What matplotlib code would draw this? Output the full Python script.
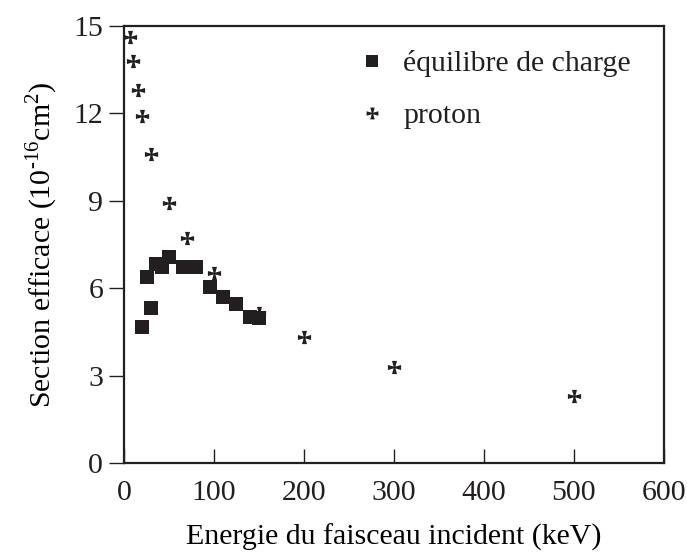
import matplotlib
matplotlib.use('Agg')
from matplotlib import pyplot as plt
from matplotlib.path import Path
from matplotlib.lines import Line2D

# data
proton_e = [7, 10, 15, 20, 30, 50, 70, 100, 150, 200, 300, 500]
proton_s = [14.6, 13.8, 12.8, 11.9, 10.6, 8.9, 7.7, 6.5, 5.15, 4.33, 3.3, 2.3]

charge_e = [20, 25, 30, 35, 42.5, 50, 65, 80, 95, 110, 125, 140, 150]
charge_s = [4.67, 6.38, 5.30, 6.82, 6.73, 7.05, 6.73, 6.71, 6.03, 5.70, 5.45, 5.02, 4.96]

xticks = [0, 100, 200, 300, 400, 500, 600]
yticks = [0, 3, 6, 9, 12, 15]

ink = '#231f20'
fs = 21.5
plt.rcParams['font.family'] = ['Liberation Serif', 'DejaVu Serif']
plt.rcParams['mathtext.fontset'] = 'custom'
plt.rcParams['mathtext.rm'] = 'Liberation Serif'
plt.rcParams['text.color'] = ink

# cross pattee marker
a, b = 0.14, 0.38
verts = [(a, a), (b, 1), (-b, 1), (-a, a), (-1, b), (-1, -b), (-a, -a),
         (-b, -1), (b, -1), (a, -a), (1, -b), (1, b), (a, a)]
codes = [Path.MOVETO] + [Path.LINETO] * 11 + [Path.CLOSEPOLY]
cross = Path(verts, codes)

fig = plt.figure(figsize=(6.87, 5.53), dpi=100)
ax = fig.add_axes([0.1805, 0.1627, 0.786, 0.791])

ax.plot(charge_e, charge_s, linestyle='none', marker='s', markersize=9.5,
        color=ink, markeredgewidth=0)
ax.plot(proton_e, proton_s, linestyle='none', marker=cross, markersize=9.5,
        color=ink, markeredgewidth=0)

ax.set_xlim(0, 600)
ax.set_ylim(0, 15)
ax.set_xticks(xticks)
ax.set_yticks(yticks)
ax.tick_params(axis='x', direction='in', length=10, width=1, colors=ink,
               labelsize=fs, pad=12)
ax.tick_params(axis='y', direction='out', length=11, width=1, colors=ink,
               labelsize=fs, pad=4)
for s in ax.spines.values():
    s.set_linewidth(1.6)
    s.set_color(ink)

ax.set_xlabel('Energie du faisceau incident (keV)', fontsize=fs, labelpad=13)
ax.set_ylabel('Section efficace (10$^{\\mathregular{\u201016}}$cm$^{\\mathregular{2}}$)',
              fontsize=fs, labelpad=10)

handles = [Line2D([], [], linestyle='none', marker='s', markersize=8, color=ink, markeredgewidth=0),
           Line2D([], [], linestyle='none', marker=cross, markersize=8.5, color=ink, markeredgewidth=0)]
fig.legend(handles, ['équilibre de charge', 'proton'], loc='upper left',
           frameon=False, fontsize=fs, handlelength=1.0, handletextpad=0.55,
           labelspacing=0.85, borderpad=0, borderaxespad=0,
           bbox_to_anchor=(357 / 687, 1 - 50 / 553))

fig.savefig('out.png', dpi=100)
